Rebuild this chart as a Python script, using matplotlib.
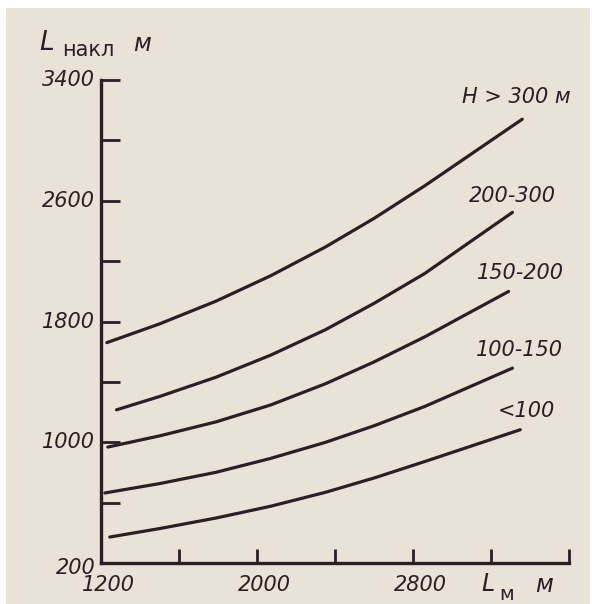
import matplotlib
matplotlib.use("Agg")
import matplotlib.pyplot as plt
from matplotlib.patches import Rectangle

# ---- data ----
x_h300 = [1230, 1500, 1790, 2070, 2350, 2600, 2860, 3360]
y_h300 = [1660, 1784, 1935, 2103, 2293, 2483, 2699, 3140]

x_200_300 = [1280, 1500, 1790, 2070, 2350, 2600, 2860, 3310]
y_200_300 = [1215, 1303, 1431, 1577, 1745, 1920, 2118, 2523]

x_150_200 = [1235, 1500, 1790, 2070, 2350, 2600, 2860, 3290]
y_150_200 = [968, 1042, 1135, 1247, 1387, 1532, 1698, 1999]

x_100_150 = [1220, 1500, 1790, 2070, 2350, 2600, 2860, 3310]
y_100_150 = [664, 726, 801, 893, 999, 1109, 1237, 1491]

x_lt100 = [1245, 1500, 1790, 2070, 2350, 2600, 2860, 3350]
y_lt100 = [372, 428, 498, 576, 668, 763, 872, 1083]

curve_labels = ["H > 300 м", "200-300", "150-200", "100-150", "<100"]

x_ticks = [1600, 2000, 2400, 2800, 3200, 3600]
x_tick_labels = ["1200", "2000", "2800"]
x_tick_label_pos = [1200, 2000, 2800]
y_ticks = [600, 1000, 1400, 1800, 2200, 2600, 3000, 3400]
y_tick_labels = ["200", "1000", "1800", "2600", "3400"]
y_tick_label_pos = [200, 1000, 1800, 2600, 3400]

INK = "#2a1f25"
PAPER = "#e9e2d6"
W, H = 592, 604

fig = plt.figure(figsize=(W / 100, H / 100), dpi=100)
fig.patch.set_facecolor("white")
fig.patches.append(Rectangle((6 / W, 0), (590 - 6) / W, (604 - 8) / H,
                             transform=fig.transFigure, facecolor=PAPER,
                             edgecolor="none", zorder=-10))

ax = fig.add_axes([101 / W, 41 / H, 468 / W, 483 / H])
ax.set_facecolor("none")
ax.set_xlim(1200, 3600)
ax.set_ylim(200, 3400)

for s in ["top", "right"]:
    ax.spines[s].set_visible(False)
for s in ["left", "bottom"]:
    ax.spines[s].set_color(INK)
    ax.spines[s].set_linewidth(2.4)

series = [(x_h300, y_h300), (x_200_300, y_200_300), (x_150_200, y_150_200),
          (x_100_150, y_100_150), (x_lt100, y_lt100)]
for xs, ys in series:
    ax.plot(xs, ys, color=INK, lw=2.3, solid_capstyle="round",
            solid_joinstyle="round")

ax.set_xticks(x_ticks)
ax.set_xticklabels([])
ax.set_yticks(y_ticks)
ax.set_yticklabels([])
ax.tick_params(axis="x", direction="in", length=10, width=2.0, color=INK)
ax.tick_params(axis="y", direction="in", length=14, width=2.0, color=INK)

fs = 15
font = dict(family="DejaVu Sans", style="italic", color=INK, fontsize=fs)

# y tick labels
for v, t in zip(y_tick_label_pos, y_tick_labels):
    dy = -30 if v == 200 else 0
    ax.text(-0.012, v + dy, t, transform=ax.get_yaxis_transform(),
            ha="right", va="center", **font)
# x tick labels
for v, t in zip(x_tick_label_pos, x_tick_labels):
    ax.text(v + 40, -0.025, t, transform=ax.get_xaxis_transform(),
            ha="center", va="top", **font)

# axis titles
fig.text(39 / W, 1 - 43 / H, "L", ha="left", va="center",
         family="DejaVu Sans", style="italic", fontsize=19, color=INK)
fig.text(62 / W, 1 - 50 / H, "накл", ha="left", va="center",
         family="DejaVu Sans", fontsize=15, color=INK)
fig.text(133 / W, 1 - 44 / H, "м", ha="left", va="center",
         family="DejaVu Sans", style="italic", fontsize=17, color=INK)

fig.text(481 / W, 1 - 584 / H, "L", ha="left", va="center",
         family="DejaVu Sans", style="italic", fontsize=17, color=INK)
fig.text(499 / W, 1 - 594 / H, "м", ha="left", va="center",
         family="DejaVu Sans", fontsize=14, color=INK)
fig.text(535 / W, 1 - 585 / H, "м", ha="left", va="center",
         family="DejaVu Sans", style="italic", fontsize=17, color=INK)

# curve labels placed above the end of each curve
label_px = [(516, 97), (512, 196), (520, 273), (519, 350), (526, 411)]
for (px, py), t in zip(label_px, curve_labels):
    fig.text(px / W, 1 - py / H, t, ha="center", va="center", **font)

fig.savefig("out.png", dpi=100, facecolor=fig.get_facecolor())
